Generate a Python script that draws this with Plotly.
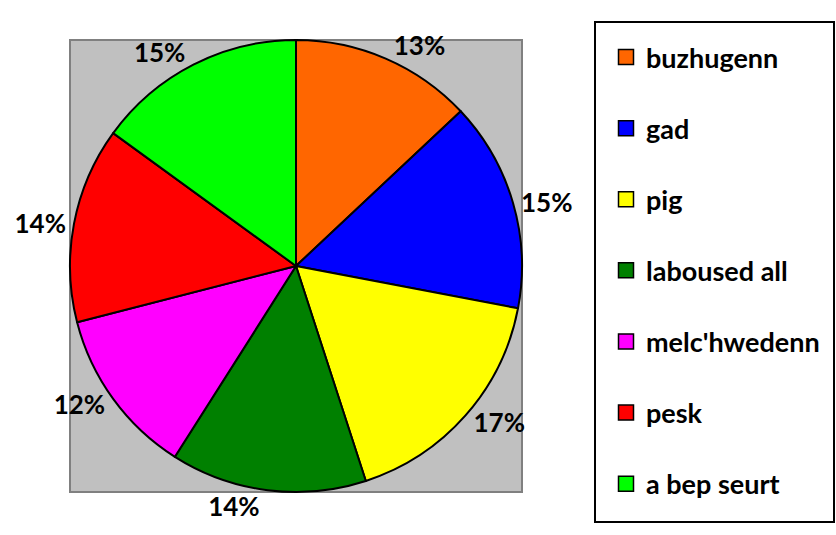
import plotly.graph_objects as go

labels = ["buzhugenn", "gad", "pig", "laboused all", "melc'hwedenn", "pesk", "a bep seurt"]
values = [13, 15, 17, 14, 12, 14, 15]
colors = ["#FF6600", "#0000FF", "#FFFF00", "#008000", "#FF00FF", "#FF0000", "#00FF00"]

W, H = 836, 535
FONT = "Lato, 'Open Sans', sans-serif"

fig = go.Figure()
fig.add_trace(go.Pie(
    labels=labels, values=values, sort=False, direction="clockwise", rotation=0,
    marker=dict(colors=colors, line=dict(color="black", width=2)),
    textposition="outside", texttemplate="%{percent:.0%}",
    textfont=dict(size=26, color="black", family=FONT, weight="bold"),
    showlegend=False, hoverinfo="label+percent",
    domain=dict(x=[70 / W, 522 / W], y=[1 - 492 / H, 1 - 40 / H]),
))

for i, (lab, col) in enumerate(zip(labels, colors)):
    fig.add_trace(go.Scatter(
        x=[None], y=[None], mode="markers", name=lab, legendgroup=f"g{i}",
        marker=dict(symbol="square", size=15, color=col, line=dict(color="black", width=1.5)),
        showlegend=True,
    ))

fig.update_layout(
    width=W, height=H, margin=dict(l=0, r=0, t=0, b=0),
    paper_bgcolor="white", plot_bgcolor="white",
    xaxis=dict(visible=False), yaxis=dict(visible=False),
    font=dict(family=FONT, size=27, color="black"),
    shapes=[
        dict(type="rect", xref="paper", yref="paper",
             x0=70 / W, x1=522 / W, y0=1 - 492 / H, y1=1 - 40 / H,
             fillcolor="#C0C0C0", line=dict(color="#808080", width=2), layer="below"),
        dict(type="rect", xref="paper", yref="paper",
             x0=595 / W, x1=834 / W, y0=1 - 522 / H, y1=1 - 22 / H,
             fillcolor="white", line=dict(color="black", width=2), layer="below"),
    ],
    legend=dict(x=606 / W, y=1 - 33 / H, xanchor="left", yanchor="top",
                bgcolor="rgba(0,0,0,0)", borderwidth=0,
                font=dict(family=FONT, size=27, color="black", weight="bold"),
                tracegroupgap=33, itemsizing="trace"),
)

fig.write_html("out.html", config={"displayModeBar": False},
               post_script="document.body.style.margin='0';")
